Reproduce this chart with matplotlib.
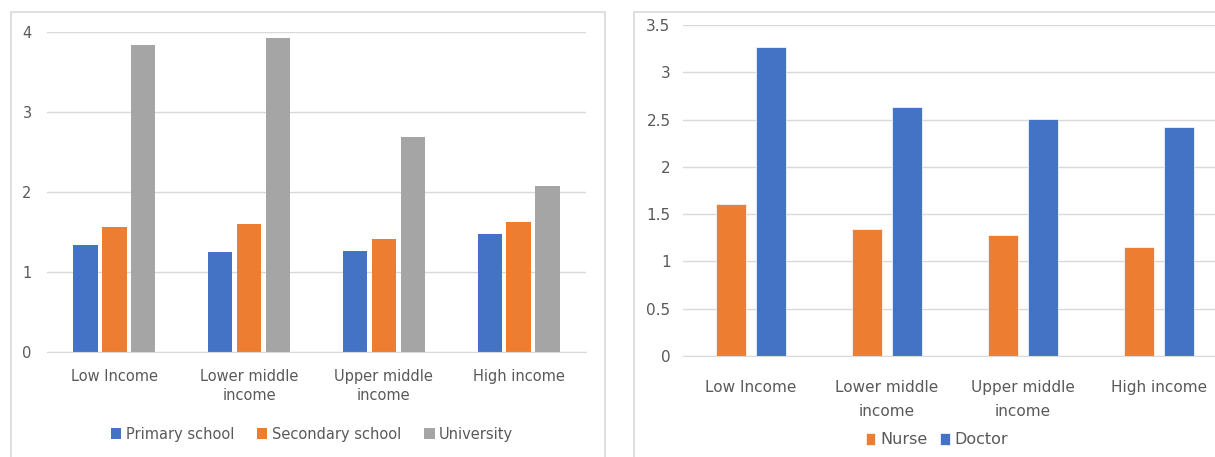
import matplotlib.pyplot as plt
from matplotlib.patches import Rectangle
import numpy as np

# данные левого графика
categories = ["Low Income", "Lower middle\nincome", "Upper middle\nincome", "High income"]
primary = [1.34, 1.25, 1.26, 1.47]
secondary = [1.56, 1.60, 1.41, 1.62]
university = [3.84, 3.93, 2.69, 2.07]

# данные правого графика
nurse = [1.61, 1.34, 1.28, 1.15]
doctor = [3.27, 2.63, 2.51, 2.42]

BLUE = "#4472C4"
ORANGE = "#ED7D31"
GRAY = "#A5A5A5"
GRID = "#D9D9D9"
TEXT = "#595959"

W, H = 1215, 457
fig = plt.figure(figsize=(W / 100, H / 100), dpi=100)


def px(x0, y0, x1, y1):
    # пиксели -> доли фигуры
    return [x0 / W, 1 - y1 / H, (x1 - x0) / W, (y1 - y0) / H]


# рамки двух картинок
for x0, x1 in [(11, 605), (634, 1260)]:
    fig.patches.append(Rectangle((x0 / W, -0.1), (x1 - x0) / W, 1 - 12 / H + 0.1,
                                 transform=fig.transFigure, fill=False,
                                 edgecolor=GRID, linewidth=1.2))

x = np.arange(len(categories))


def style(ax, pad_y, pad_x, fs, ls):
    ax.set_facecolor("none")
    for s in ["top", "right", "left"]:
        ax.spines[s].set_visible(False)
    ax.spines["bottom"].set_color(GRID)
    ax.yaxis.grid(True, color=GRID, linewidth=1)
    ax.set_axisbelow(True)
    ax.tick_params(length=0, colors=TEXT, labelsize=fs)
    ax.tick_params(axis="y", pad=pad_y)
    ax.tick_params(axis="x", pad=pad_x)
    ax.set_xticks(x)
    ax.set_xticklabels(categories, color=TEXT, fontsize=fs, linespacing=ls)
    ax.set_xlim(-0.5, len(categories) - 0.5)


# левый график
ax1 = fig.add_axes(px(47, 32, 586, 352))
w1, step1 = 0.18, 0.215
b1 = ax1.bar(x - step1, primary, w1, color=BLUE, label="Primary school")
b2 = ax1.bar(x, secondary, w1, color=ORANGE, label="Secondary school")
b3 = ax1.bar(x + step1, university, w1, color=GRAY, label="University")
ax1.set_ylim(0, 4)
ax1.set_yticks([0, 1, 2, 3, 4])
style(ax1, 11, 12, 10.5, 1.4)
fig.legend(handles=[b1, b2, b3], loc="center", bbox_to_anchor=(312 / W, 1 - 434 / H),
           ncol=3, frameon=False, fontsize=10.5, labelcolor=TEXT,
           handlelength=0.7, handleheight=0.7, handletextpad=0.3, columnspacing=1.6)

# правый график
ax2 = fig.add_axes(px(683, 25, 1227, 356))
w2, step2 = 0.22, 0.145
n = ax2.bar(x - step2, nurse, w2, color=ORANGE, edgecolor="white", linewidth=0.5, label="Nurse")
d = ax2.bar(x + step2, doctor, w2, color=BLUE, edgecolor="white", linewidth=0.5, label="Doctor")
ax2.set_ylim(0, 3.5)
ax2.set_yticks([0, 0.5, 1, 1.5, 2, 2.5, 3, 3.5])
ax2.set_yticklabels(["0", "0.5", "1", "1.5", "2", "2.5", "3", "3.5"])
style(ax2, 9, 17, 11, 1.75)
fig.legend(handles=[n, d], loc="center", bbox_to_anchor=(937 / W, 1 - 440 / H),
           ncol=2, frameon=False, fontsize=11.5, labelcolor=TEXT,
           handlelength=0.6, handleheight=0.7, handletextpad=0.3, columnspacing=0.8)

plt.savefig("out.png", dpi=100)
plt.close()
